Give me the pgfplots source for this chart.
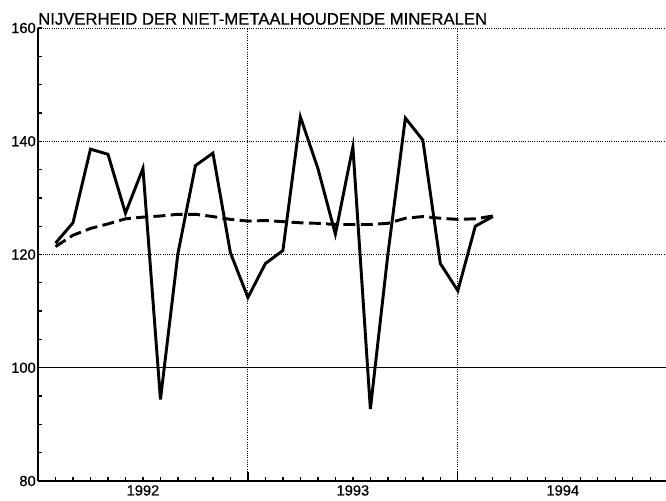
\documentclass[border=0pt]{standalone}
\usepackage{fontspec}
\setmainfont{Liberation Sans}
\newfontfamily\heavyfont{Liberation Sans}[FakeBold=0.6]
\usepackage{pgfplots}
\pgfplotsset{compat=1.18}
\pgfplotstableread{
x y
1 122.0
2 125.6
3 138.6
4 137.7
5 127.3
6 135.2
7 94.4
8 120.2
9 135.7
10 137.9
11 120.3
12 112.4
13 118.4
14 120.7
15 144.3
16 135.2
17 123.6
18 139.0
19 92.7
20 120.0
21 144.1
22 140.2
23 118.4
24 113.6
25 125.0
26 126.7
}\actual
\pgfplotstableread{
x y
1 121.4
2 123.4
3 124.6
4 125.4
5 126.3
6 126.6
7 126.8
8 127.1
9 127.1
10 126.7
11 126.2
12 125.9
13 126.0
14 125.8
15 125.6
16 125.5
17 125.3
18 125.3
19 125.3
20 125.5
21 126.4
22 126.7
23 126.4
24 126.2
25 126.3
26 126.8
}\trend
\begin{document}
\begin{tikzpicture}
\begin{axis}[
  scale only axis,
  width=471pt, height=339.75pt,
  xmin=0, xmax=35.9, ymin=80, ymax=160,
  axis lines*=left,
  axis line style={-, line width=1.3pt},
  tick align=inside,
  xtick={6,18,30},
  xticklabels={1992,1993,1994},
  minor xtick={1,...,35},
  extra x ticks={12,24},
  extra x tick labels={},
  extra x tick style={grid=major, major tick length=7pt},
  ytick={80,100,...,160},
  minor ytick={85,90,...,155},
  ymajorgrids,
  grid style={black, line width=0.7pt, densely dotted},
  major tick length=3pt, minor tick length=3pt,
  tick style={black, line width=1pt},
  ticklabel style={font=\heavyfont\fontsize{11}{11}\selectfont},
  yticklabel style={inner xsep=1.5pt},
  xticklabel style={inner ysep=3pt},
  /pgf/number format/assume math mode=true,
  clip=false,
]
\addplot[black, line width=1pt, forget plot] coordinates {(0,100) (35.9,100)};
\addplot[black, line width=2.2pt, line join=miter] table[x=x,y=y]{\actual};
\addplot[black, line width=2.2pt, dash pattern=on 9pt off 4pt] table[x=x,y=y]{\trend};
\coordinate (BL) at (rel axis cs:0,0);
\coordinate (TR) at (rel axis cs:1,1);
\node[anchor=base west, inner sep=0pt, font=\heavyfont\fontsize{12.5}{12.5}\selectfont] at ([yshift=2.5pt]rel axis cs:0,1) {NIJVERHEID DER NIET-METAALHOUDENDE MINERALEN};
\end{axis}
\pgfresetboundingbox
\useasboundingbox ([xshift=-28.5pt,yshift=-15pt]BL) rectangle ([yshift=21pt]TR);
\end{tikzpicture}
\end{document}
